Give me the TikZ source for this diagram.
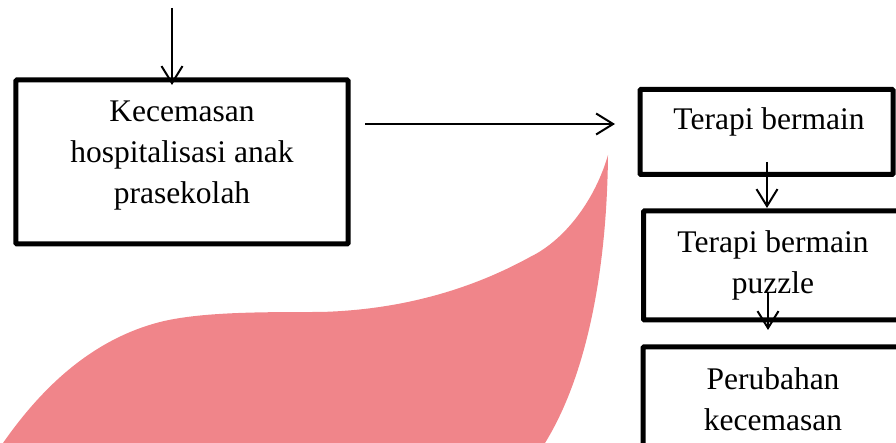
\documentclass[tikz,border=0pt]{standalone}
\usepackage{fontspec}
\setmainfont{Liberation Serif}
\usetikzlibrary{arrows.meta}
\definecolor{pinkfill}{RGB}{240,133,138}
\tikzset{
  box/.style={draw=black, line width=5bp, rectangle, inner sep=0pt, outer sep=0pt, rounded corners=1bp},
  lbl/.style={font=\fontsize{31.5bp}{41bp}\selectfont, align=center, inner sep=0pt, outer sep=0pt, anchor=base},
  arr/.style={line width=2bp, -{Straight Barb[length=17bp,width=21bp]}},
}
\begin{document}
\begin{tikzpicture}[x=1bp,y=-1bp]
\useasboundingbox (0,0) rectangle (896,443);
\clip (0,0) rectangle (896,443);
% pink shape
\fill[pinkfill] (3,443) .. controls (40,390) and (90,340) .. (160,322)
  .. controls (200,312) and (260,312) .. (320,312)
  .. controls (400,310) and (470,290) .. (530,257)
  .. controls (565,240) and (595,200) .. (608,155)
  .. controls (607,260) and (590,370) .. (545,443) -- cycle;
% boxes
\node[box, minimum width=332bp, minimum height=164bp] (b1) at (182,162) {};
\node[box, minimum width=253bp, minimum height=85bp] (b1r) at (766.5,132) {};
\node[box, minimum width=261.5bp, minimum height=109bp] (b2) at (774.25,265.5) {};
\node[box, minimum width=262bp, minimum height=113bp] (b3) at (774,403.5) {};
% texts (base = baseline of the last line)
\node[lbl] (t1) at (182,204) {Kecemasan\\hospitalisasi anak\\prasekolah};
\node[lbl] (t1r) at (769,130) {Terapi bermain};
\node[lbl] (t2) at (773,294) {Terapi bermain\\puzzle};
\node[lbl] (t3) at (773,430) {Perubahan\\kecemasan};
% connectors
\coordinate (in) at (172,8);
\draw[arr, shorten >=-5bp] (in) -- (in |- b1.north);
\coordinate (hs) at (365,124);
\coordinate (he) at (615,124);
\draw[arr] (hs) -- (he);
\coordinate (a1s) at (767,162);
\draw[arr, shorten >=3bp] (a1s) -- (a1s |- b2.north);
\coordinate (a2s) at (768,292);
\coordinate (a2e) at (768,330);
\draw[arr] (a2s) -- (a2e);
\end{tikzpicture}
\end{document}
